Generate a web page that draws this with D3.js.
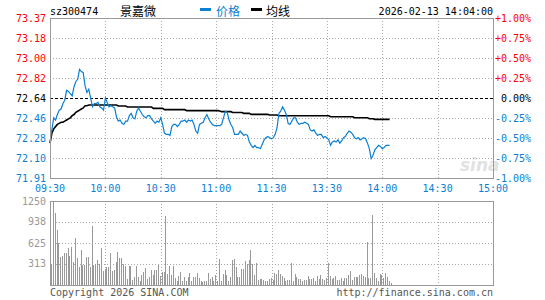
<!DOCTYPE html>
<html>
<head>
<meta charset="utf-8">
<script src="https://cdn.jsdelivr.net/npm/d3@7/dist/d3.min.js"></script>
<style>
body { margin: 0; background: #fff; }
svg text { font-family: "DejaVu Sans Mono", monospace; font-size: 10px; }
</style>
</head>
<body>
<svg id="chart" width="545" height="300"></svg>
<script>
var code = "sz300474";
var stockName = "景嘉微";
var dateTime = "2026-02-13 14:04:00";
var legendNames = ["价格", "均线"];
var preClose = 72.64;

var timeLabels = ["09:30", "10:00", "10:30", "11:00", "11:30", "13:30", "14:00", "14:30", "15:00"];
var pctTicks = [1, 0.75, 0.5, 0.25, 0, -0.25, -0.5, -0.75, -1];
var priceLabels = ["73.37", "73.18", "73.00", "72.82", "72.64", "72.46", "72.28", "72.10", "71.91"];
var pctLabels = ["+1.00%", "+0.75%", "+0.50%", "+0.25%", "0.00%", "-0.25%", "-0.50%", "-0.75%", "-1.00%"];
var volTicks = [1250, 938, 625, 313];

// one value per minute from 09:30
var prices = [
	72.23, 72.35, 72.46, 72.44, 72.49, 72.53, 72.54, 72.59, 72.62, 72.71,
	72.70, 72.68, 72.66, 72.74, 72.79, 72.81, 72.90, 72.88, 72.87, 72.75,
	72.69, 72.72, 72.64, 72.56, 72.59, 72.59, 72.60, 72.56, 72.55, 72.53,
	72.64, 72.60, 72.56, 72.57, 72.56, 72.55, 72.47, 72.43, 72.44, 72.41,
	72.40, 72.43, 72.43, 72.48, 72.50, 72.46, 72.45, 72.52, 72.55, 72.52,
	72.49, 72.47, 72.46, 72.48, 72.48, 72.45, 72.43, 72.41, 72.43, 72.42,
	72.46, 72.40, 72.32, 72.31, 72.31, 72.30, 72.38, 72.40, 72.40, 72.38,
	72.40, 72.43, 72.43, 72.44, 72.42, 72.44, 72.43, 72.44, 72.40, 72.34,
	72.32, 72.40, 72.41, 72.42, 72.46, 72.49, 72.45, 72.42, 72.40, 72.39,
	72.39, 72.39, 72.39, 72.40, 72.46, 72.52, 72.51, 72.44, 72.40, 72.37,
	72.31, 72.31, 72.31, 72.34, 72.32, 72.30, 72.31, 72.30, 72.24, 72.21,
	72.19, 72.21, 72.19, 72.19, 72.18, 72.22, 72.26, 72.28, 72.29, 72.28,
	72.27, 72.28, 72.31, 72.37, 72.50, 72.52, 72.56, 72.53, 72.49, 72.41,
	72.40, 72.43, 72.46, 72.46, 72.42, 72.40, 72.41, 72.41, 72.42, 72.41,
	72.40, 72.35, 72.34, 72.35, 72.32, 72.30, 72.31, 72.31, 72.28, 72.29,
	72.28, 72.26, 72.21, 72.24, 72.25, 72.24, 72.26, 72.23, 72.25, 72.28,
	72.29, 72.32, 72.34, 72.33, 72.31, 72.28, 72.27, 72.28, 72.26, 72.27,
	72.28, 72.27, 72.23, 72.18, 72.09, 72.12, 72.17, 72.19, 72.21, 72.20,
	72.18, 72.19, 72.21, 72.21, 72.21
];

var avgPrices = [
	72.23, 72.32, 72.36, 72.38, 72.40, 72.41, 72.42, 72.42, 72.43, 72.44,
	72.45, 72.46, 72.48, 72.49, 72.51, 72.52, 72.53, 72.54, 72.55, 72.57,
	72.57, 72.576, 72.576, 72.576, 72.576, 72.576, 72.576, 72.576, 72.576, 72.576,
	72.576, 72.576, 72.576, 72.576, 72.576, 72.576, 72.576, 72.567, 72.567, 72.567,
	72.567, 72.567, 72.558, 72.558, 72.558, 72.558, 72.558, 72.558, 72.558, 72.558,
	72.558, 72.558, 72.558, 72.558, 72.558, 72.558, 72.546, 72.546, 72.546, 72.546,
	72.546, 72.546, 72.534, 72.534, 72.534, 72.534, 72.534, 72.534, 72.534, 72.534,
	72.534, 72.534, 72.534, 72.534, 72.525, 72.525, 72.525, 72.525, 72.525, 72.525,
	72.525, 72.525, 72.525, 72.525, 72.525, 72.525, 72.525, 72.525, 72.525, 72.525,
	72.525, 72.525, 72.522, 72.516, 72.516, 72.516, 72.516, 72.516, 72.516, 72.509,
	72.509, 72.509, 72.509, 72.509, 72.509, 72.500, 72.500, 72.500, 72.500, 72.491,
	72.491, 72.491, 72.491, 72.491, 72.491, 72.491, 72.491, 72.491, 72.491, 72.485,
	72.485, 72.485, 72.485, 72.485, 72.479, 72.479, 72.479, 72.479, 72.479, 72.479,
	72.479, 72.479, 72.479, 72.479, 72.479, 72.479, 72.479, 72.479, 72.479, 72.479,
	72.479, 72.479, 72.479, 72.479, 72.479, 72.479, 72.479, 72.479, 72.479, 72.479,
	72.479, 72.479, 72.470, 72.470, 72.470, 72.470, 72.470, 72.470, 72.470, 72.470,
	72.470, 72.470, 72.470, 72.470, 72.470, 72.461, 72.461, 72.461, 72.461, 72.461,
	72.461, 72.461, 72.461, 72.452, 72.452, 72.452, 72.446, 72.446, 72.446, 72.446,
	72.446, 72.446, 72.446, 72.446, 72.446
];

var volumes = [
	313, 1260, 1071, 813, 625, 417, 427, 476, 476, 551,
	427, 560, 342, 699, 402, 268, 526, 303, 303, 412,
	412, 268, 878, 303, 312, 372, 312, 551, 213, 238,
	263, 268, 476, 213, 228, 342, 491, 402, 402, 312,
	283, 89, 283, 283, 79, 119, 283, 124, 64, 144,
	193, 258, 94, 114, 228, 154, 218, 228, 303, 134,
	193, 193, 1027, 164, 283, 154, 283, 104, 55, 129,
	193, 64, 119, 55, 114, 179, 64, 114, 114, 174,
	104, 55, 45, 55, 64, 179, 84, 114, 64, 144,
	64, 387, 55, 164, 223, 144, 55, 124, 372, 387,
	268, 114, 114, 243, 238, 352, 312, 372, 516, 312,
	154, 322, 74, 94, 84, 74, 64, 55, 94, 104,
	79, 179, 164, 223, 159, 134, 104, 64, 79, 79,
	322, 55, 164, 114, 84, 84, 55, 74, 74, 134,
	89, 89, 104, 64, 134, 84, 144, 84, 74, 104,
	322, 129, 94, 104, 129, 79, 79, 104, 64, 104,
	104, 144, 203, 74, 114, 114, 114, 144, 164, 139,
	114, 635, 104, 104, 1047, 174, 104, 64, 164, 149,
	104, 179, 119, 60, 35
];

var left = 50, right = 493;
var priceTop = 18, priceBottom = 178;
var volTop = 201, volBottom = 285;

var red = "#f00";
var blue = "#0a7fd4";
var gray = "#999";

var svg = d3.select("#chart");

var x = d3.scaleLinear().domain([0, 240]).range([left, right]);
var pctY = d3.scaleLinear().domain([-1, 1]).range([priceBottom, priceTop]);
var priceY = function(p) {
	return pctY((p / preClose - 1) * 100);
};
var volY = d3.scaleLinear().domain([0, 1250]).range([volBottom, volTop]).clamp(true);

var tickColor = function(v) {
	if (v > 0) return red;
	if (v < 0) return blue;
	return "#000";
};

var px = function(v) {
	return Math.round(v) + 0.5;
};

// header
svg.append("text").attr("x", left).attr("y", 15).attr("fill", "#000").text(code);
svg.append("text").attr("x", 120).attr("y", 16)
	.style("font-family", '"Noto Sans CJK SC", sans-serif').style("font-size", "12px")
	.attr("fill", "#000").text(stockName);

svg.append("rect").attr("x", 200).attr("y", 8).attr("width", 11).attr("height", 3).attr("fill", blue);
svg.append("text").attr("x", 216).attr("y", 16)
	.style("font-family", '"Noto Sans CJK SC", sans-serif').style("font-size", "12px")
	.attr("fill", blue).text(legendNames[0]);
svg.append("rect").attr("x", 251).attr("y", 8).attr("width", 11).attr("height", 3).attr("fill", "#000");
svg.append("text").attr("x", 266).attr("y", 16)
	.style("font-family", '"Noto Sans CJK SC", sans-serif').style("font-size", "12px")
	.attr("fill", "#000").text(legendNames[1]);

svg.append("text").attr("x", right).attr("y", 15).attr("text-anchor", "end").attr("fill", "#000").text(dateTime);

// watermark
svg.append("text").attr("x", 460).attr("y", 171)
	.style("font-family", '"DejaVu Sans", sans-serif').style("font-size", "17px")
	.style("font-style", "italic").style("font-weight", "bold")
	.attr("fill", "#e2e2e2").text("sina");

// price grid
var priceGrid = svg.append("g").attr("shape-rendering", "crispEdges");
priceGrid.selectAll(".hgrid").data(pctTicks.slice(1, -1)).enter().append("line")
	.attr("x1", left).attr("x2", right)
	.attr("y1", function(d) { return px(pctY(d)); })
	.attr("y2", function(d) { return px(pctY(d)); })
	.attr("stroke", function(d) { return d === 0 ? "#000" : "#aaa"; })
	.attr("stroke-dasharray", function(d) { return d === 0 ? "3,2" : "1,2"; });

var vTicks = d3.range(1, 8);
priceGrid.selectAll(".vgrid").data(vTicks).enter().append("line")
	.attr("x1", function(d) { return px(x(d * 30)); })
	.attr("x2", function(d) { return px(x(d * 30)); })
	.attr("y1", priceTop).attr("y2", priceBottom)
	.attr("stroke", "#aaa").attr("stroke-dasharray", "1,2");

// price axis labels
svg.selectAll(".plabel").data(pctTicks).enter().append("text")
	.attr("x", 46).attr("y", function(d) { return pctY(d); })
	.attr("dy", "0.35em").attr("text-anchor", "end")
	.attr("fill", tickColor)
	.text(function(d, i) { return priceLabels[i]; });

svg.selectAll(".pctlabel").data(pctTicks).enter().append("text")
	.attr("x", 531).attr("y", function(d) { return pctY(d); })
	.attr("dy", "0.35em").attr("text-anchor", "end")
	.attr("fill", tickColor)
	.text(function(d, i) { return pctLabels[i]; });

svg.selectAll(".tlabel").data(timeLabels).enter().append("text")
	.attr("x", function(d, i) { return x(i * 30); })
	.attr("y", 188).attr("dy", "0.35em").attr("text-anchor", "middle")
	.attr("fill", blue)
	.text(function(d) { return d; });

// price lines
var line = d3.line()
	.x(function(d, i) { return x(i); })
	.y(function(d) { return priceY(d); });

svg.append("path").datum(avgPrices).attr("d", line)
	.attr("fill", "none").attr("stroke", "#000").attr("stroke-width", 1.6);

svg.append("path").datum(prices).attr("d", line)
	.attr("fill", "none").attr("stroke", blue).attr("stroke-width", 1.2);

svg.append("rect").attr("x", left + 0.5).attr("y", priceTop + 0.5)
	.attr("width", right - left).attr("height", priceBottom - priceTop)
	.attr("fill", "none").attr("stroke", gray).attr("shape-rendering", "crispEdges");

// volume grid
var volGrid = svg.append("g").attr("shape-rendering", "crispEdges");
volGrid.selectAll(".hgrid").data(volTicks.slice(1)).enter().append("line")
	.attr("x1", left).attr("x2", right)
	.attr("y1", function(d) { return px(volY(d)); })
	.attr("y2", function(d) { return px(volY(d)); })
	.attr("stroke", "#aaa").attr("stroke-dasharray", "1,2");
volGrid.selectAll(".vgrid").data(vTicks).enter().append("line")
	.attr("x1", function(d) { return px(x(d * 30)); })
	.attr("x2", function(d) { return px(x(d * 30)); })
	.attr("y1", volTop).attr("y2", volBottom)
	.attr("stroke", "#aaa").attr("stroke-dasharray", "1,2");

svg.append("g").attr("shape-rendering", "crispEdges")
	.selectAll("rect").data(volumes).enter().append("rect")
	.attr("x", function(d, i) { return Math.round(x(i)) + 1; })
	.attr("y", function(d) { return Math.round(volY(d)); })
	.attr("width", 1)
	.attr("height", function(d) { return volBottom - Math.round(volY(d)); })
	.attr("fill", gray);

svg.append("rect").attr("x", left + 0.5).attr("y", volTop + 0.5)
	.attr("width", right - left).attr("height", volBottom - volTop)
	.attr("fill", "none").attr("stroke", gray).attr("shape-rendering", "crispEdges");

svg.selectAll(".vlabel").data(volTicks).enter().append("text")
	.attr("x", 46).attr("y", function(d) { return volY(d); })
	.attr("dy", "0.35em").attr("text-anchor", "end")
	.attr("fill", gray)
	.text(function(d) { return d; });

// footer
svg.append("text").attr("x", left).attr("y", 292).attr("dy", "0.35em")
	.attr("fill", "#555").text("Copyright 2026 SINA.COM");
svg.append("text").attr("x", right).attr("y", 292).attr("dy", "0.35em")
	.attr("text-anchor", "end").attr("fill", "#555").text("http://finance.sina.com.cn");
</script>
</body>
</html>
